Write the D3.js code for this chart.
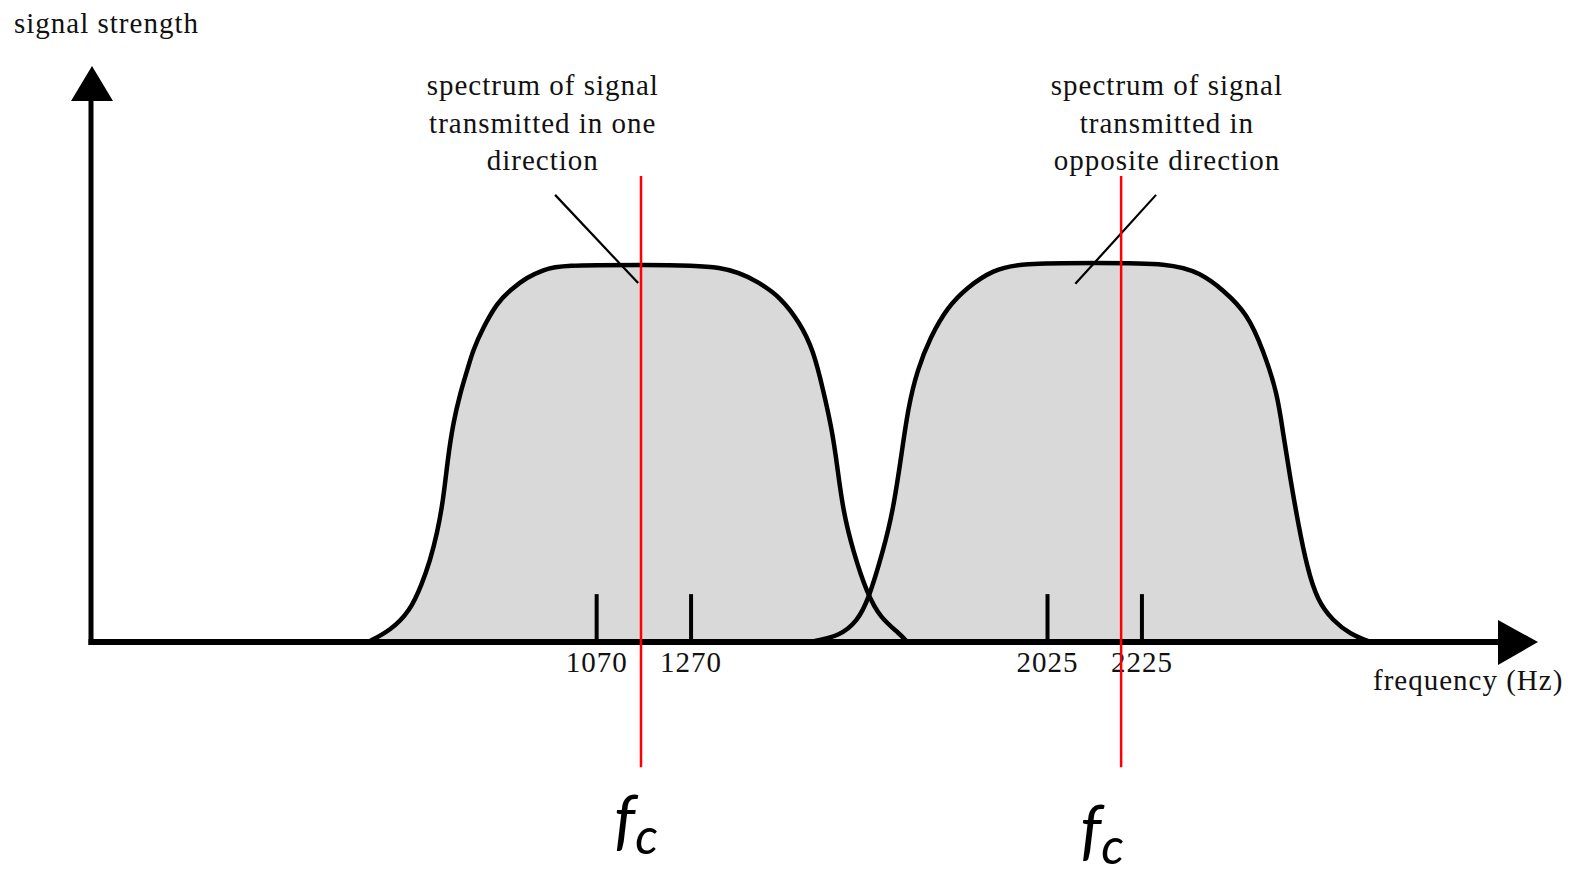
<!DOCTYPE html>
<html>
<head>
<meta charset="utf-8">
<script src="https://cdn.jsdelivr.net/npm/d3@7"></script>
<style>
  body { margin: 0; background: #fff; }
  svg { display: block; background: #fff; }
  .serif {
    font-family: "Liberation Serif", "Times New Roman", serif;
    font-size: 29px;
    letter-spacing: 1px;
    fill: #111;
  }
  .fc { font-family: Lato, "Open Sans", sans-serif; font-style: italic; fill: #000; }
</style>
</head>
<body>
<div id="content"></div>
<script>
// frequency (Hz) / relative strength
const bandOneDirection = [
  [587, 0], [634, 0.03], [676, 0.082], [701, 0.154], [718, 0.215], [733, 0.287],
  [746, 0.375], [756, 0.489], [767, 0.58], [782, 0.66], [797, 0.721], [809, 0.774],
  [831, 0.835], [860, 0.899], [888, 0.934], [924, 0.968], [958, 0.987], [994, 1],
  [1170, 1], [1348, 1], [1417, 0.952], [1460, 0.915], [1502, 0.846], [1530, 0.774],
  [1551, 0.668], [1570, 0.561], [1581, 0.463], [1593, 0.348], [1614, 0.242],
  [1644, 0.128], [1672, 0.064], [1714, 0.021], [1729, 0],
];
const bandOppositeDirection = [
  [1523, 0], [1587, 0.016], [1623, 0.056], [1646, 0.109], [1678, 0.242], [1699, 0.348],
  [1718, 0.508], [1731, 0.622], [1750, 0.721], [1778, 0.809], [1814, 0.888],
  [1856, 0.941], [1911, 0.987], [1968, 1.005], [2130, 1.005], [2286, 1.005],
  [2350, 0.979], [2398, 0.934], [2449, 0.872], [2483, 0.774], [2513, 0.66],
  [2525, 0.553], [2540, 0.436], [2557, 0.314], [2576, 0.197], [2598, 0.109],
  [2631, 0.056], [2667, 0.021], [2710, 0],
];
const tickFreqs = [1070, 1270, 2025, 2225];
const tickLabels = ["1070", "1270", "2025", "2225"];
const carrierFreqs = [1165, 2182];
const noteCenters = [957, 2279];
const noteTexts = [
  ["spectrum of signal", "transmitted in one", "direction"],
  ["spectrum of signal", "transmitted in", "opposite direction"],
];
const leaders = [
  [[983, 1.186], [1159, 0.952]],
  [[2256, 1.186], [2085, 0.95]],
];

const width = 1571;
const height = 875;
const freqMax = 3065; // arrow tip
const strengthMax = 1.528; // arrow tip

const svg = d3
  .select("#content")
  .append("svg")
  .attr("width", width)
  .attr("height", height);

const x = d3.scaleLinear().domain([0, freqMax]).range([91, 1538]);
const y = d3.scaleLinear().domain([0, 1]).range([642, 265]);

const area = d3
  .area()
  .x((d) => x(d[0]))
  .y0(y(0))
  .y1((d) => y(d[1]))
  .curve(d3.curveBasis);
const line = d3
  .line()
  .x((d) => x(d[0]))
  .y((d) => y(d[1]))
  .curve(d3.curveBasis);

const bands = [bandOneDirection, bandOppositeDirection];

// fills first, outlines on top so both crossings stay visible
svg
  .selectAll(".band-fill")
  .data(bands)
  .enter()
  .append("path")
  .attr("class", "band-fill")
  .attr("d", area)
  .attr("fill", "#d9d9d9");

svg
  .selectAll(".band-line")
  .data(bands)
  .enter()
  .append("path")
  .attr("class", "band-line")
  .attr("d", line)
  .attr("fill", "none")
  .attr("stroke", "#000")
  .attr("stroke-width", 4.5)
  .attr("stroke-linejoin", "round");

// ticks pointing up, labels below
const xAxis = svg
  .append("g")
  .attr("transform", `translate(0,${y(0)})`)
  .call(
    d3
      .axisBottom(x)
      .tickValues(tickFreqs)
      .tickFormat((d, i) => tickLabels[i])
      .tickSizeInner(-(y(0) - y(0.127)))
      .tickSizeOuter(0)
      .tickPadding(9.5),
  )
  .attr("font-size", null)
  .attr("font-family", null);
xAxis.select(".domain").remove();
xAxis.selectAll(".tick line").attr("stroke", "#000").attr("stroke-width", 4);
xAxis.selectAll(".tick text").attr("class", "serif").attr("fill", null);

// axis lines with arrow heads
const x0 = x(0);
const yTip = y(strengthMax);
const xTip = x(freqMax);
svg
  .append("line")
  .attr("x1", x0)
  .attr("x2", x0)
  .attr("y1", y(0) + 3)
  .attr("y2", yTip + 34)
  .attr("stroke", "#000")
  .attr("stroke-width", 5);
svg
  .append("path")
  .attr("d", `M${x0 + 1},${yTip}L${x0 + 22},${yTip + 35}L${x0 - 20},${yTip + 35}Z`)
  .attr("fill", "#000");
svg
  .append("line")
  .attr("x1", x0 - 2.5)
  .attr("x2", xTip - 39)
  .attr("y1", y(0))
  .attr("y2", y(0))
  .attr("stroke", "#000")
  .attr("stroke-width", 6);
svg
  .append("path")
  .attr("d", `M${xTip},${y(0)}L${xTip - 40},${y(0) - 22}L${xTip - 40},${y(0) + 23}Z`)
  .attr("fill", "#000");

svg
  .append("text")
  .attr("class", "serif")
  .attr("x", 14)
  .attr("y", 33)
  .text("signal strength");

svg
  .append("text")
  .attr("class", "serif")
  .attr("x", 1373)
  .attr("y", 690)
  .text("frequency (Hz)");

// leader lines
svg
  .selectAll(".leader")
  .data(leaders)
  .enter()
  .append("path")
  .attr("class", "leader")
  .attr("d", d3.line().x((d) => x(d[0])).y((d) => y(d[1])))
  .attr("stroke", "#000")
  .attr("stroke-width", 2.2)
  .attr("fill", "none");

// annotation blocks
noteTexts.forEach((lines, i) => {
  const t = svg
    .append("text")
    .attr("class", "serif")
    .attr("text-anchor", "middle");
  lines.forEach((s, j) => {
    t.append("tspan")
      .attr("x", x(noteCenters[i]))
      .attr("y", 95 + j * 37.5)
      .text(s);
  });
});

// carrier frequency markers
svg
  .selectAll(".carrier")
  .data(carrierFreqs)
  .enter()
  .append("line")
  .attr("class", "carrier")
  .attr("x1", (d) => x(d))
  .attr("x2", (d) => x(d))
  .attr("y1", y(1.236))
  .attr("y2", y(-0.332))
  .attr("stroke", "#ff0000")
  .attr("stroke-width", 2.5);

const fcOffsets = [
  { dx: -27, y: 842 },
  { dx: -41, y: 852 },
];
carrierFreqs.forEach((f, i) => {
  const t = svg
    .append("text")
    .attr("class", "fc")
    .attr("x", x(f) + fcOffsets[i].dx)
    .attr("y", fcOffsets[i].y)
    .attr("font-size", 66);
  t.append("tspan").text("f");
  t.append("tspan").attr("dy", 12).attr("font-size", 50).text("c");
});
</script>
</body>
</html>
